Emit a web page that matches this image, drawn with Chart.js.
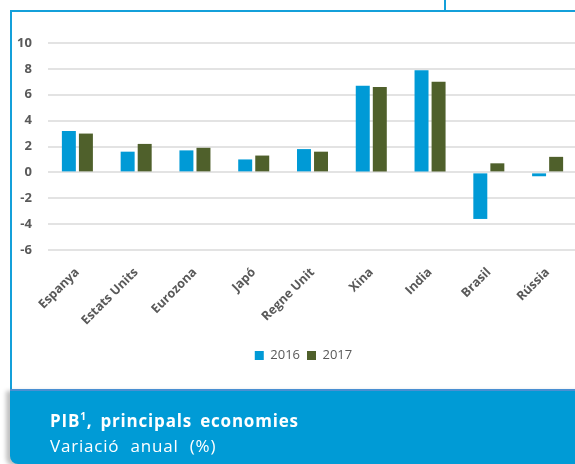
<!DOCTYPE html>
<html>
<head>
<meta charset="utf-8">
<script src="https://cdn.jsdelivr.net/npm/chart.js@4"></script>
<style>
  html, body { margin: 0; padding: 0; background: #fff; }
  body { width: 575px; height: 464px; position: relative; overflow: hidden; font-family: 'Open Sans', sans-serif; }
  #wrap { position: absolute; left: 0; top: 0; width: 590px; height: 390px; }
  .line { position: absolute; background: #14a0da; }
  #footer {
    position: absolute; left: 10px; top: 389px; width: 600px; height: 73px;
    background: #009bd6; border-top: 2px solid #4a8fd2; border-bottom-left-radius: 8px;
    box-shadow: -4px 2px 4px rgba(0,0,0,0.25); color: #fff;
  }
  #footer .t1 { position: absolute; left: 40px; top: 18px; font-size: 17px; font-weight: bold; letter-spacing: 0.8px; word-spacing: 3px; white-space: nowrap; }
  #footer .t1 sup { font-size: 10px; vertical-align: 7px; line-height: 0; }
  #footer .t2 { position: absolute; left: 40px; top: 43px; font-size: 17px; letter-spacing: 0.8px; word-spacing: 6px; white-space: nowrap; }
</style>
</head>
<body>
<div class="line" style="left:10px; top:10px; width:570px; height:2px;"></div>
<div class="line" style="left:10px; top:10px; width:2px; height:380px;"></div>
<div class="line" style="left:444px; top:0px; width:2px; height:11px;"></div>
<div id="wrap"><canvas id="myChart"></canvas></div>
<div id="footer">
  <div class="t1">PIB<sup>1</sup>, principals economies</div>
  <div class="t2">Variació anual (%)</div>
</div>
<script>
// valors llegits del gràfic (%)
const countries = ['Espanya', 'Estats Units', 'Eurozona', 'Japó', 'Regne Unit', 'Xina', 'India', 'Brasil', 'Rússia'];
const pib2016 = [3.2, 1.6, 1.7, 1.0, 1.8, 6.7, 7.9, -3.6, -0.3];
const pib2017 = [3.0, 2.2, 1.9, 1.3, 1.6, 6.6, 7.0, 0.7, 1.2];
const yTicks = [10, 8, 6, 4, 2, 0, -2, -4, -6];

const ctx = document.getElementById('myChart').getContext('2d');
new Chart(ctx, {
  type: 'bar',
  data: {
    labels: countries,
    datasets: [
      { label: '2016', data: pib2016, backgroundColor: '#009ad6', categoryPercentage: 0.58, barPercentage: 0.82 },
      { label: '2017', data: pib2017, backgroundColor: '#4f602b', categoryPercentage: 0.58, barPercentage: 0.82 }
    ]
  },
  options: {
    responsive: true,
    maintainAspectRatio: false,
    animation: false,
    // padding esquerre + amplada eix y = 48px, perquè la llegenda quedi centrada com a l'original
    layout: { padding: { left: 30, right: 13, top: 43, bottom: 18 } },
    plugins: {
      tooltip: { enabled: false },
      legend: {
        position: 'bottom',
        labels: {
          boxWidth: 9, boxHeight: 9, padding: 7,
          color: '#595959',
          font: { family: 'Open Sans', size: 13 }
        }
      }
    },
    scales: {
      y: {
        min: -6, max: 10,
        afterFit: function(scale) { scale.width = 18; },
        afterBuildTicks: function(scale) { scale.ticks = yTicks.map(v => ({ value: v })); },
        border: { display: false },
        grid: { color: '#e3e3e3', lineWidth: 2, drawTicks: false },
        // mirror per evitar el retall de les etiquetes; 'far' les alinea a la dreta
        ticks: {
          mirror: true,
          crossAlign: 'far',
          padding: -31,
          color: '#595959',
          font: { family: 'Open Sans', size: 13, weight: 'bold' }
        }
      },
      x: {
        afterFit: function(scale) { scale.height = 92; },
        border: { display: false },
        grid: { display: false },
        ticks: {
          minRotation: 45, maxRotation: 45,
          padding: 7,
          color: '#595959',
          font: { family: 'Open Sans', size: 12.5, weight: 'bold' }
        }
      }
    }
  }
});
</script>
</body>
</html>
